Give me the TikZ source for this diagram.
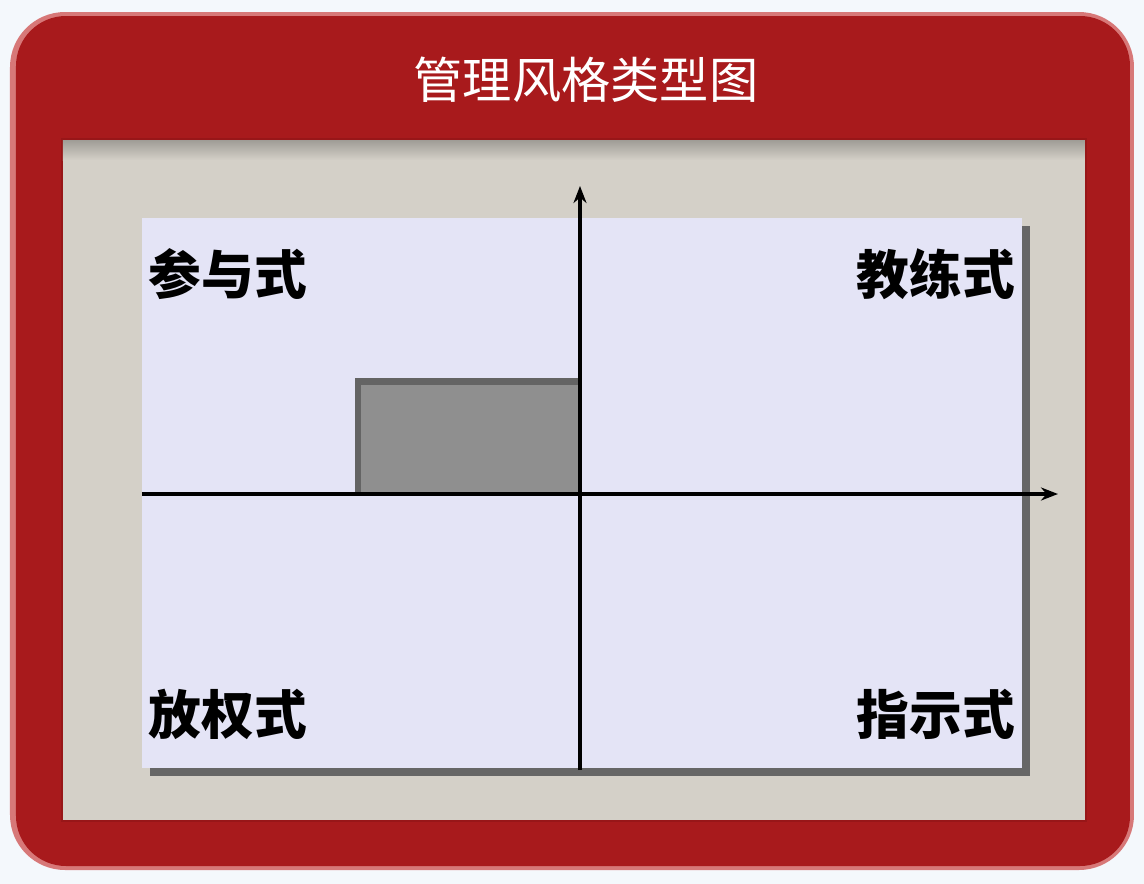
\documentclass[tikz,border=0pt]{standalone}
\usepackage{fontspec}
\newfontfamily\cjk{Noto Sans CJK SC}
\usetikzlibrary{arrows.meta}
\definecolor{frame}{RGB}{168,26,28}
\definecolor{framedark}{RGB}{130,18,20}
\definecolor{framelight}{RGB}{215,120,120}
\definecolor{panel}{RGB}{212,208,200}
\definecolor{plot}{RGB}{228,228,246}
\definecolor{boxfill}{RGB}{143,143,143}
\definecolor{boxedge}{RGB}{100,100,100}
\definecolor{bgc}{RGB}{244,248,252}
\tikzset{
  lbl/.style={font=\cjk\bfseries\fontsize{15}{15}\selectfont, text=black, inner sep=0pt},
  ttl/.style={font=\cjk\fontsize{14}{14}\selectfont, text=white, inner sep=0pt},
  axis/.style={line width=1pt, -{Stealth[length=0.17cm,width=0.13cm]}}
}
\begin{document}
\begin{tikzpicture}[x=0.01cm,y=-0.01cm]
\useasboundingbox (0,0) rectangle (1144,884);
\fill[bgc] (0,0) rectangle (1144,884);
% outer red frame
\fill[framelight, rounded corners=0.55cm] (10,12) rectangle (1134,870);
\fill[frame, rounded corners=0.5cm] (16,16) rectangle (1130,866);
\fill[framedark, opacity=0.4] (61,138) rectangle (1087,822);
% panel
\fill[panel] (63,140) rectangle (1085,820);
\shade[top color=panel!75!black, bottom color=panel] (63,140) rectangle (1085,160);
% title
\node[ttl] (title) at (586,80) {管理风格类型图};
% plot area with shadow
\fill[black!60] (150,226) rectangle (1030,776);
\fill[plot] (142,218) rectangle (1022,768);
% grey box
\node[fill=boxfill, minimum width=2.22cm, minimum height=1.11cm, inner sep=0pt, anchor=south west] (box) at (358,494) {};
\draw[boxedge, line width=1.8pt] (box.south west) -- (box.north west) -- (box.north east);
% axes
\coordinate (xs) at (142,494);
\coordinate (xe) at (1058,494);
\coordinate (ys) at (580,770);
\coordinate (ye) at (580,186);
\draw[axis] (xs) -- (xe);
\draw[axis] (ys) -- (ye);
% labels
\node[lbl] (q1) at (228,274) {参与式};
\node[lbl] (q2) at (936,274) {教练式};
\node[lbl] (q3) at (228,714) {放权式};
\node[lbl] (q4) at (936,714) {指示式};
\end{tikzpicture}
\end{document}
